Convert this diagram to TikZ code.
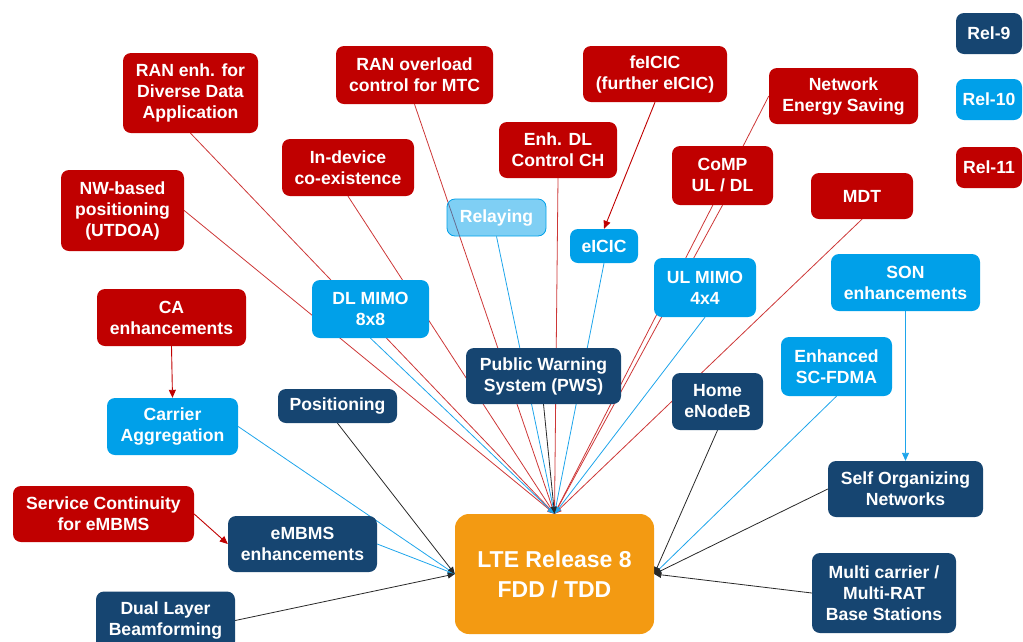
\documentclass[tikz,border=0pt]{standalone}
\usepackage{fontspec}
\setmainfont{Liberation Sans}
\usetikzlibrary{arrows.meta,backgrounds}

\definecolor{relnine}{RGB}{22,69,113}
\definecolor{relten}{RGB}{0,160,233}
\definecolor{releleven}{RGB}{192,0,0}
\definecolor{ltecol}{RGB}{243,154,18}
\definecolor{redline}{RGB}{205,55,55}
\definecolor{blueline}{RGB}{30,165,235}
\definecolor{darkline}{RGB}{40,40,40}

\tikzset{
  box/.style={rounded corners=8pt, inner sep=0pt, align=center, text=white,
    font=\bfseries\fontsize{17.6}{21}\selectfont},
  nine/.style={box, fill=relnine},
  ten/.style={box, fill=relten},
  eleven/.style={box, fill=releleven},
  faint/.style={box, fill=relten, fill opacity=0.5, text opacity=1,
    draw=relten, line width=0.8pt},
  core/.style={box, fill=ltecol, rounded corners=14pt,
    font=\bfseries\fontsize{23}{30}\selectfont},
  link/.style={line width=0.8pt, -{Triangle[length=7pt,width=6pt]}},
  feed/.style={line width=0.9pt, -{Triangle[length=8pt,width=7pt]}},
}

\begin{document}
\begin{tikzpicture}[x=1pt,y=-1pt]
\useasboundingbox (0,0) rectangle (1023,641);

% legend
\node[nine, minimum width=66pt, minimum height=41pt] (rel9) at (989,33.5) {Rel-9};
\node[ten, minimum width=66pt, minimum height=41pt] (rel10) at (989,99.5) {Rel-10};
\node[eleven, minimum width=66pt, minimum height=41pt] (rel11) at (989,167.5) {Rel-11};

% central node
\node[core, minimum width=199pt, minimum height=120pt] (lte) at (554.5,574) {LTE Release 8\\FDD / TDD};

% Rel-11 features
\node[eleven, minimum width=135pt, minimum height=80pt] (randiv) at (190.5,93) {RAN enh. for\\Diverse Data\\Application};
\node[eleven, minimum width=123pt, minimum height=81pt] (nwpos) at (122.5,210.5) {NW-based\\positioning\\(UTDOA)};
\node[eleven, minimum width=157pt, minimum height=58pt] (ranmtc) at (414.5,75) {RAN overload\\control for MTC};
\node[eleven, minimum width=132pt, minimum height=57pt] (indev) at (348,167.5) {In-device\\co-existence};
\node[eleven, minimum width=118pt, minimum height=56pt] (enhdl) at (558,150) {Enh. DL\\Control CH};
\node[eleven, minimum width=144pt, minimum height=56pt] (feicic) at (655,74) {feICIC\\(further eICIC)};
\node[eleven, minimum width=149pt, minimum height=56pt] (nes) at (843.5,96) {Network\\Energy Saving};
\node[eleven, minimum width=101pt, minimum height=59pt] (comp) at (722.5,175.5) {CoMP\\UL / DL};
\node[eleven, minimum width=102pt, minimum height=46pt] (mdt) at (862,196) {MDT};
\node[eleven, minimum width=149pt, minimum height=57pt] (caenh) at (171.5,317.5) {CA\\enhancements};
\node[eleven, minimum width=181pt, minimum height=56pt] (svc) at (103.5,514) {Service Continuity\\for eMBMS};

% Rel-10 features
\node[faint, minimum width=99pt, minimum height=37pt] (relay) at (496.5,217.5) {Relaying};
\node[ten, minimum width=68pt, minimum height=34pt] (eicic) at (604,246) {eICIC};
\node[ten, minimum width=102pt, minimum height=59pt] (ulmimo) at (705,287.5) {UL MIMO\\4x4};
\node[ten, minimum width=149pt, minimum height=57pt] (sonenh) at (905.5,282.5) {SON\\enhancements};
\node[ten, minimum width=117pt, minimum height=58pt] (dlmimo) at (370.5,309) {DL MIMO\\8x8};
\node[ten, minimum width=131pt, minimum height=57pt] (carrier) at (172.5,426.5) {Carrier\\Aggregation};
\node[ten, minimum width=111pt, minimum height=59pt] (scfdma) at (836.5,366.5) {Enhanced\\SC-FDMA};

% Rel-9 features
\node[nine, minimum width=119pt, minimum height=34pt] (posn) at (337.5,406) {Positioning};
\node[nine, minimum width=155pt, minimum height=56pt] (pws) at (543.5,376) {Public Warning\\System (PWS)};
\node[nine, minimum width=91pt, minimum height=57pt] (henb) at (717.5,401.5) {Home\\eNodeB};
\node[nine, minimum width=155pt, minimum height=56pt] (son) at (905.5,489) {Self Organizing\\Networks};
\node[nine, minimum width=144pt, minimum height=80pt] (multi) at (884,593) {Multi carrier /\\Multi-RAT\\Base Stations};
\node[nine, minimum width=149pt, minimum height=56pt] (embms) at (302.5,544) {eMBMS\\enhancements};
\node[nine, minimum width=139pt, minimum height=58pt] (dlbf) at (165.5,620.5) {Dual Layer\\Beamforming};

\begin{scope}[on background layer]
  % Rel-11 links
  \draw[link, redline] (randiv.south) -- (lte.north);
  \draw[link, redline] (nwpos.east) -- (lte.north);
  \draw[link, redline] (indev.south) -- (lte.north);
  \draw[link, redline] (ranmtc.south) -- (lte.north);
  \draw[link, redline] (enhdl.south) -- (lte.north);
  \draw[link, redline] (nes.west) -- (lte.north);
  \draw[link, redline] (comp.south) -- (lte.north);
  \draw[link, redline] (mdt.south) -- (lte.north);
  \draw[feed, releleven] (caenh.south) -- (carrier.north);
  \draw[feed, releleven] (svc.east) -- (embms.west);
  \draw[feed, releleven] (feicic.south) -- (eicic.north);
  % Rel-10 links
  \draw[link, blueline] (relay.south) -- (lte.north);
  \draw[link, blueline] (eicic.south) -- (lte.north);
  \draw[link, blueline] (ulmimo.south) -- (lte.north);
  \draw[link, blueline] (dlmimo.south) -- (lte.north);
  \draw[link, blueline] (carrier.east) -- (lte.west);
  \draw[link, blueline] (embms.east) -- (lte.west);
  \draw[link, blueline] (scfdma.south) -- (lte.east);
  \draw[feed, blueline] (sonenh.south) -- (son.north);
  % Rel-9 links
  \draw[link, darkline] (pws.south) -- (lte.north);
  \draw[link, darkline] (posn.south) -- (lte.west);
  \draw[link, darkline] (dlbf.east) -- (lte.west);
  \draw[link, darkline] (henb.south) -- (lte.east);
  \draw[link, darkline] (son.west) -- (lte.east);
  \draw[link, darkline] (multi.west) -- (lte.east);
\end{scope}
\end{tikzpicture}
\end{document}
